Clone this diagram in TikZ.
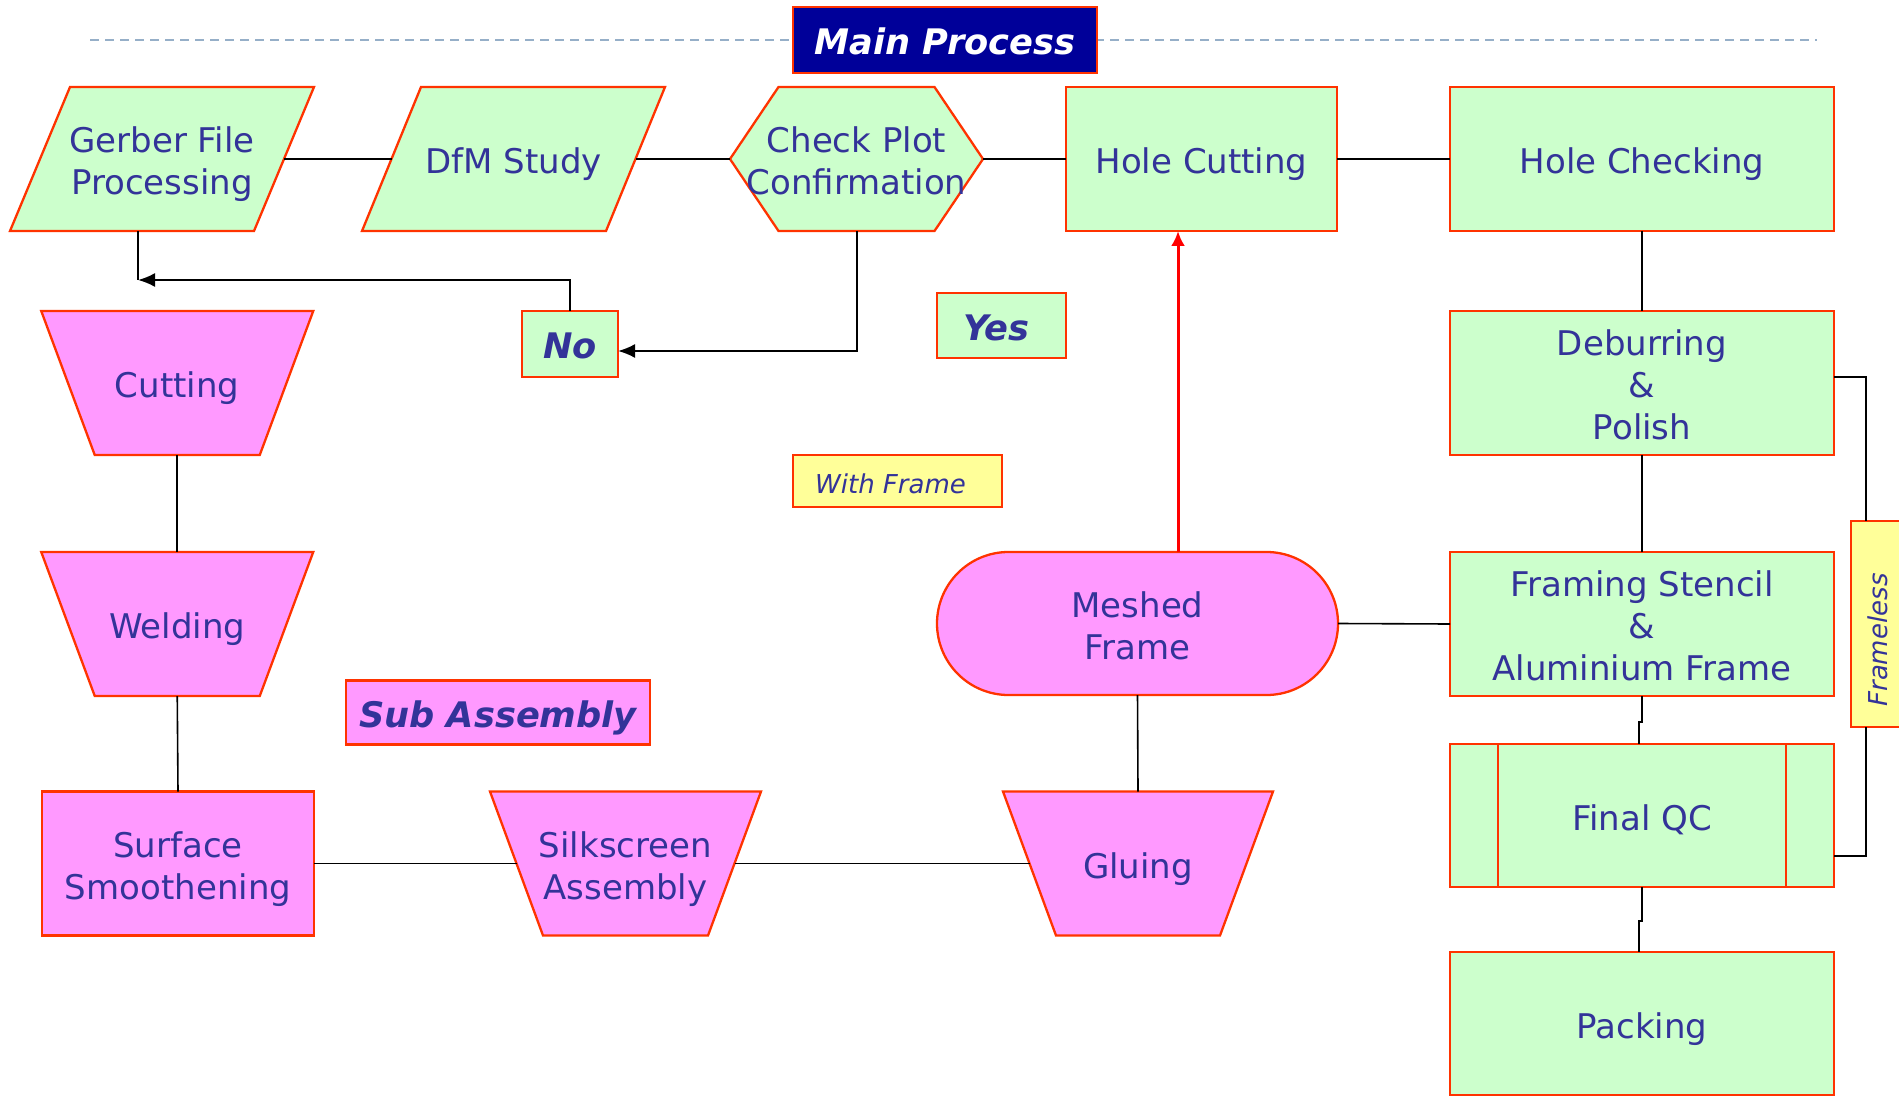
\documentclass[tikz,border=0pt]{standalone}
\usepackage{fontspec}
\usepackage{graphicx}
\setmainfont{DejaVu Sans}
\usetikzlibrary{arrows.meta,calc}
\definecolor{grn}{HTML}{CCFFCC}
\definecolor{pnk}{HTML}{FF99FF}
\definecolor{ylw}{HTML}{FFFF99}
\definecolor{brd}{HTML}{FF3300}
\definecolor{txt}{HTML}{333399}
\definecolor{navyb}{HTML}{000099}
\definecolor{dashc}{RGB}{150,175,200}
\pgfdeclarelayer{bg}
\pgfsetlayers{bg,main}
\newcommand{\celltext}[2][-3.25pt]{\raisebox{#1}[\height][\depth]{\begin{tabular}{@{}c@{}}#2\end{tabular}}}
\tikzset{
  base/.style={inner sep=0pt, outer sep=0pt, text=txt, font=\fontsize{17}{21}\selectfont},
  gbox/.style={base, rectangle, draw=brd, line width=1.15pt, fill=grn},
  pbox/.style={base, rectangle, draw=brd, line width=1.15pt, fill=pnk},
  ghost/.style={base, rectangle},
  shp/.style={draw=brd, line width=1.15pt, line join=miter},
  conn/.style={line width=0.8pt, black},
  arr/.style={line width=1pt, black, -{Latex[length=8.5pt,width=7pt]}},
  redarr/.style={line width=1.5pt, red, -{Latex[length=7.5pt,width=7pt]}},
  bitext/.style={font=\fontsize{17.6}{21}\selectfont\bfseries\itshape},
}
\begin{document}
\begin{tikzpicture}[x=0.5pt,y=-0.5pt]
\useasboundingbox (0,0) rectangle (1899,1096);
\clip (0,0) rectangle (1899,1096);

% ---------- nodes ----------
\node[gbox, fill=navyb, text=white, bitext, minimum width=152pt, minimum height=33pt] (mainp) at (945,40) {\celltext{Main Process}};

\node[ghost, minimum width=122pt, minimum height=72pt] (gerber) at (162,159) {\celltext{Gerber File\\Processing}};
\node[ghost, minimum width=122pt, minimum height=72pt] (dfm) at (513.5,159) {\celltext{DfM Study}};
\node[ghost, minimum width=126.5pt, minimum height=72pt] (check) at (856.5,159) {\celltext{Check Plot\\Confirmation}};
\node[gbox, minimum width=135.5pt, minimum height=72pt] (holecut) at (1201.5,159) {\celltext{Hole Cutting}};
\node[gbox, minimum width=192pt, minimum height=72pt] (holecheck) at (1642,159) {\celltext{Hole Checking}};
\node[gbox, minimum width=192pt, minimum height=72pt] (deburr) at (1642,383) {\celltext{Deburring\\\&\\Polish}};
\node[gbox, minimum width=192pt, minimum height=72pt] (framing) at (1642,624) {\celltext{Framing Stencil\\\&\\Aluminium Frame}};
\node[gbox, minimum width=192pt, minimum height=71.5pt] (finalqc) at (1642,815.5) {\celltext{Final QC}};
\node[gbox, minimum width=192pt, minimum height=71.5pt] (packing) at (1642,1023.5) {\celltext{Packing}};
\node[gbox, fill=ylw, minimum width=27pt, minimum height=103pt] (frameless) at (1878,624) {\rotatebox{90}{\fontsize{13}{15}\selectfont\itshape Frameless\hspace*{16pt}}};

\node[gbox, bitext, minimum width=64.5pt, minimum height=32.5pt] (yes) at (1001.5,325.5) {\celltext{Yes\hspace*{5pt}}};
\node[gbox, bitext, minimum width=48pt, minimum height=33pt] (no) at (570,344) {\celltext{No}};
\node[gbox, fill=ylw, minimum width=104.5pt, minimum height=26pt, font=\fontsize{13}{15}\selectfont\itshape] (withframe) at (897.5,481) {\celltext[-3pt]{With Frame\hspace*{7pt}}};

\node[ghost, minimum width=109.25pt, minimum height=72pt] (cut) at (177.25,383) {\celltext{Cutting}};
\node[ghost, minimum width=109.25pt, minimum height=72pt] (weld) at (177.25,624) {\celltext{Welding}};
\node[pbox, minimum width=136pt, minimum height=72pt] (surface) at (178,863.5) {\celltext{Surface\\Smoothening}};
\node[pbox, bitext, minimum width=152pt, minimum height=32pt] (subasm) at (498,712.5) {\celltext{Sub Assembly}};
\node[ghost, minimum width=109pt, minimum height=72pt] (silk) at (625.5,863.5) {\celltext{Silkscreen\\Assembly}};
\node[ghost, minimum width=108.5pt, minimum height=72pt] (gluing) at (1138,863.5) {\celltext{Gluing}};
\node[pbox, rounded corners=35.75pt, minimum width=200.5pt, minimum height=71.5pt] (meshed) at (1137.5,623.5) {\celltext{Meshed\\Frame}};

% ---------- drawn shapes behind text ----------
\begin{pgfonlayer}{bg}
\draw[dashc, line width=1pt, dash pattern=on 4.5pt off 3pt] (90,40) -- (1817,40);
% parallelograms
\draw[shp, fill=grn] ($(gerber.north west)+(30,0)$) -- ($(gerber.north east)+(30,0)$) -- ($(gerber.south east)+(-30,0)$) -- ($(gerber.south west)+(-30,0)$) -- cycle;
\draw[shp, fill=grn] ($(dfm.north west)+(29.5,0)$) -- ($(dfm.north east)+(29.5,0)$) -- ($(dfm.south east)+(-29.5,0)$) -- ($(dfm.south west)+(-29.5,0)$) -- cycle;
% hexagon
\draw[shp, fill=grn] (check.west) -- ($(check.north west)+(48.5,0)$) -- ($(check.north east)+(-48.5,0)$) -- (check.east) -- ($(check.south east)+(-48.5,0)$) -- ($(check.south west)+(48.5,0)$) -- cycle;
% inverted trapezoids
\draw[shp, fill=pnk] ($(cut.north west)+(-26.75,0)$) -- ($(cut.north east)+(26.75,0)$) -- ($(cut.south east)+(-26.75,0)$) -- ($(cut.south west)+(26.75,0)$) -- cycle;
\draw[shp, fill=pnk] ($(weld.north west)+(-26.75,0)$) -- ($(weld.north east)+(26.75,0)$) -- ($(weld.south east)+(-26.75,0)$) -- ($(weld.south west)+(26.75,0)$) -- cycle;
\draw[shp, fill=pnk] ($(silk.north west)+(-26.5,0)$) -- ($(silk.north east)+(26.5,0)$) -- ($(silk.south east)+(-26.5,0)$) -- ($(silk.south west)+(26.5,0)$) -- cycle;
\draw[shp, fill=pnk] ($(gluing.north west)+(-26.5,0)$) -- ($(gluing.north east)+(26.5,0)$) -- ($(gluing.south east)+(-26.5,0)$) -- ($(gluing.south west)+(26.5,0)$) -- cycle;
\end{pgfonlayer}

% Final QC inner bars
\draw[shp] ([xshift=24pt]finalqc.north west) -- ([xshift=24pt]finalqc.south west);
\draw[shp] ([xshift=-24pt]finalqc.north east) -- ([xshift=-24pt]finalqc.south east);

% ---------- connectors ----------
\draw[conn] (gerber.east) -- (dfm.west);
\draw[conn] (dfm.east) -- (check.west);
\draw[conn] (check.east) -- (holecut.west);
\draw[conn] (holecut.east) -- (holecheck.west);
\draw[conn] (holecheck.south) -- (deburr.north);
\draw[conn] (deburr.south) -- (framing.north);
\draw[conn] (framing.south) -- ++(0,26) -- ++(-3,0) -- ([xshift=-1.5pt]finalqc.north);
\draw[conn] (finalqc.south) -- ++(0,34) -- ++(-3,0) -- ([xshift=-1.5pt]packing.north);
\draw[conn] ([yshift=3pt]deburr.east) -| ([xshift=-6pt]frameless.north);
\draw[conn] ([xshift=-6pt]frameless.south) |- ([yshift=-20.25pt]finalqc.east);
\draw[conn] (meshed.east) -- (framing.west);
\draw[conn] (gluing.north) -- (meshed.south);
\draw[conn] (surface.east) -- (silk.west);
\draw[conn] (silk.east) -- (gluing.west);
\draw[conn] (cut.south) -- (weld.north);
\draw[conn] (weld.south) -- (surface.north);
\coordinate (ret) at (138,280);
\draw[conn] ([xshift=-12pt]gerber.south) -- (ret);
\draw[arr] (no.north) |- (ret);
\draw[arr] (check.south) |- ([yshift=-3.5pt]no.east);
\draw[redarr] ([xshift=20.25pt]meshed.north) -- ([xshift=20.25pt]meshed.north |- holecut.south);
\end{tikzpicture}
\end{document}
